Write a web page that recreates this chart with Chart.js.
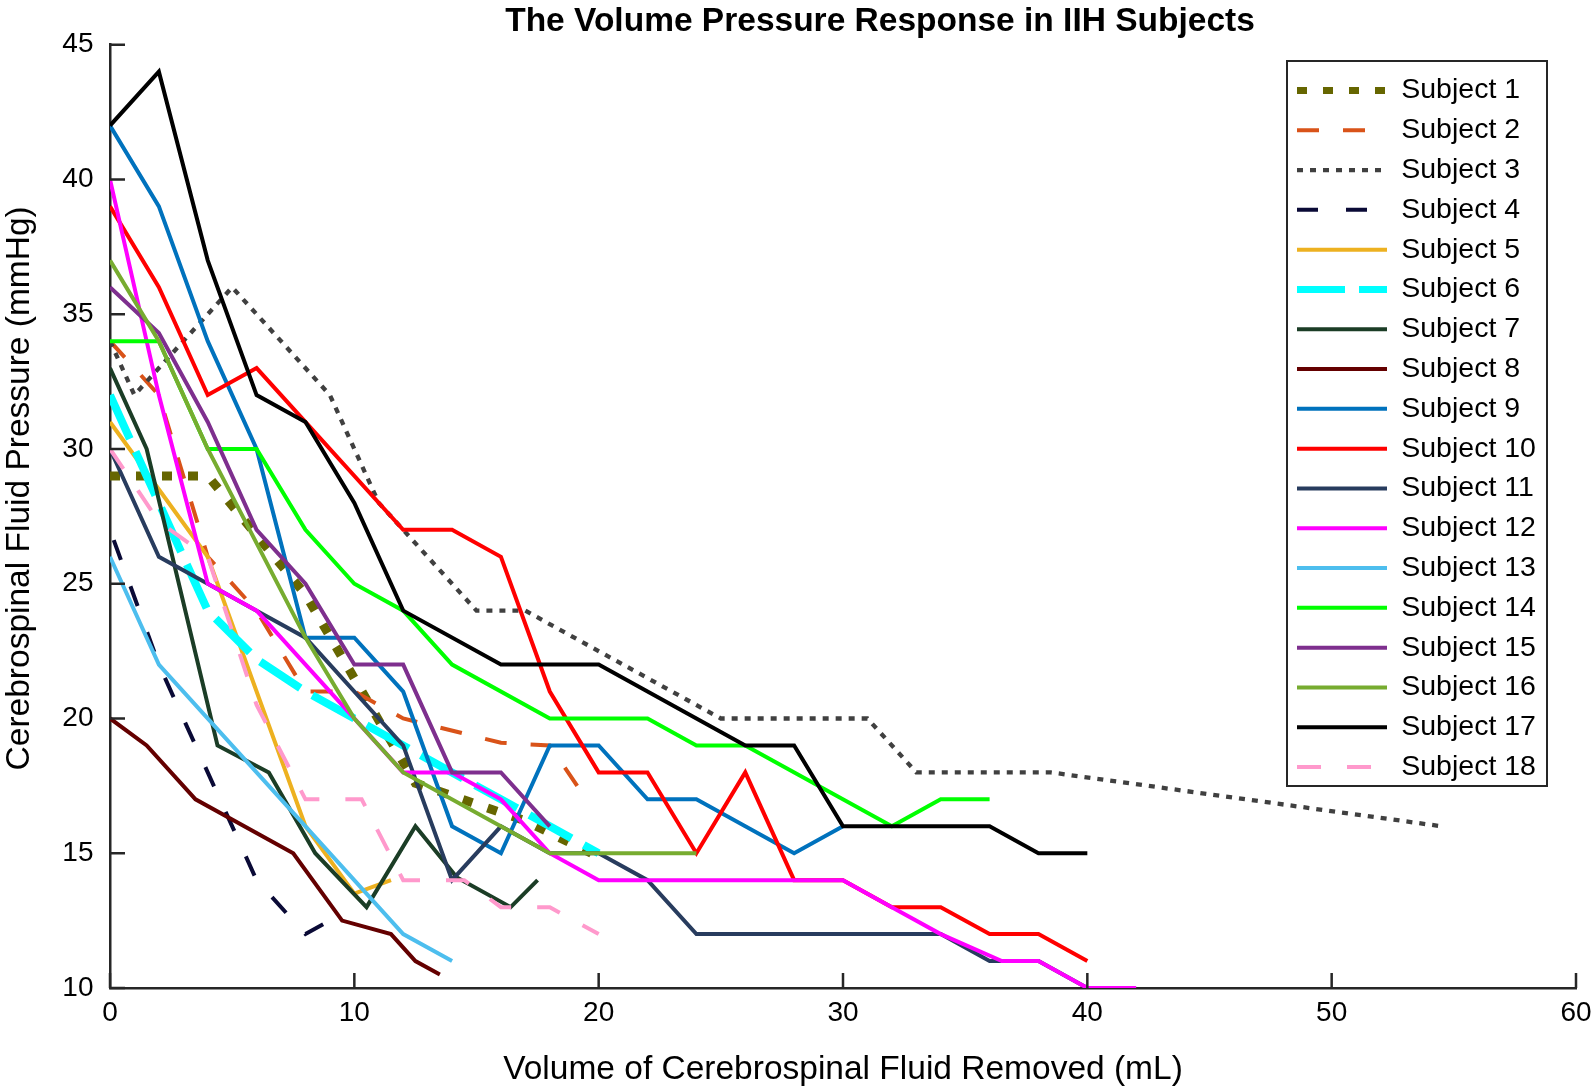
<!DOCTYPE html>
<html>
<head>
<meta charset="utf-8">
<title>The Volume Pressure Response in IIH Subjects</title>
<script src="https://cdn.jsdelivr.net/npm/chart.js@4.4.1/dist/chart.umd.min.js"></script>
<style>
  html, body { margin: 0; padding: 0; background: #fff; }
  #chart { display: block; }
</style>
</head>
<body>
<canvas id="chart" width="1594" height="1091"></canvas>
<script>
const CHART_TITLE = "The Volume Pressure Response in IIH Subjects";
const X_TITLE = "Volume of Cerebrospinal Fluid Removed (mL)";
const Y_TITLE = "Cerebrospinal Fluid Pressure (mmHg)";

const X_TICKS = [0, 10, 20, 30, 40, 50, 60];
const Y_TICKS = [10, 15, 20, 25, 30, 35, 40, 45];

const SUBJECTS = [
  "Subject 1", "Subject 2", "Subject 3", "Subject 4", "Subject 5", "Subject 6",
  "Subject 7", "Subject 8", "Subject 9", "Subject 10", "Subject 11", "Subject 12",
  "Subject 13", "Subject 14", "Subject 15", "Subject 16", "Subject 17", "Subject 18",
];

// volume removed (mL) and pressure (mmHg), one pair of arrays per subject
const ml1 = [0, 4, 8, 12.5, 17, 19.7];
const mmHg1 = [29, 29, 24.6, 17.6, 16.2, 15];
const ml2 = [0, 2, 4, 6, 8, 10, 12, 16, 18, 19.5];
const mmHg2 = [34, 32, 26, 24, 21, 21, 20, 19.1, 19, 17];
const ml3 = [0, 1, 5, 9, 11, 15, 17, 25, 31, 33, 38.5, 54.5];
const mmHg3 = [34, 32, 36, 32, 28, 24, 24, 20, 20, 18, 18, 16];
const ml4 = [0, 2, 4, 6, 8, 9];
const mmHg4 = [27, 22, 18, 14, 12, 12.5];
const ml5 = [0, 4, 8, 10, 11.5];
const mmHg5 = [31, 26, 16, 13.5, 14];
const ml6 = [0, 2, 4, 6, 8, 10, 12, 14, 16, 18, 20];
const mmHg6 = [32, 28, 24, 22.2, 21, 20, 19, 18, 17, 16, 15];
const ml7 = [0, 1.5, 4.4, 6.5, 8.4, 10.5, 12.5, 14.2, 16.4, 17.5];
const mmHg7 = [33, 30, 19, 18, 15, 13, 16, 14.1, 13, 14];
const ml8 = [0, 1.5, 3.5, 7.5, 9.5, 11.5, 12.5, 13.5];
const mmHg8 = [20, 19, 17, 15, 12.5, 12, 11, 10.5];
const ml9 = [0, 2, 4, 6, 8, 10, 12, 14, 16, 18, 20, 22, 24, 28, 30];
const mmHg9 = [42, 39, 34, 30, 23, 23, 21, 16, 15, 19, 19, 17, 17, 15, 16];
const ml10 = [0, 2, 4, 6, 12, 14, 16, 18, 20, 22, 24, 26, 28, 30, 32, 34, 36, 38, 40];
const mmHg10 = [39, 36, 32, 33, 27, 27, 26, 21, 18, 18, 15, 18, 14, 14, 13, 13, 12, 12, 11];
const ml11 = [0, 2, 4, 6, 8, 12, 14, 16, 18, 20, 22, 24, 34, 36, 38, 40];
const mmHg11 = [30, 26, 25, 24, 23, 19, 14, 16, 15, 15, 14, 12, 12, 11, 11, 10];
const ml12 = [0, 2, 4, 6, 12, 14, 16, 18, 20, 30, 32, 34, 36.5, 38, 40, 42];
const mmHg12 = [40, 32, 25, 24, 18, 18, 17, 15, 14, 14, 13, 12, 11, 11, 10, 10];
const ml13 = [0, 2, 12, 14];
const mmHg13 = [26, 22, 12, 11];
const ml14 = [0, 2, 4, 6, 8, 10, 12, 14, 18, 22, 24, 26, 32, 34, 36];
const mmHg14 = [34, 34, 30, 30, 27, 25, 24, 22, 20, 20, 19, 19, 16, 17, 17];
const ml15 = [0, 2, 4, 6, 8, 10, 12, 14, 16, 18];
const mmHg15 = [36, 34.3, 31, 27, 25, 22, 22, 18, 18, 16];
const ml16 = [0, 2, 4, 8, 10, 12, 18, 24];
const mmHg16 = [37, 34, 30, 23, 20, 18, 15, 15];
const ml17 = [0, 2, 4, 6, 8, 10, 12, 16, 20, 26, 28, 30, 36, 38, 40];
const mmHg17 = [42, 44, 37, 32, 31, 28, 24, 22, 22, 19, 19, 16, 16, 15, 15];
const ml18 = [0, 2, 4, 6, 8, 10.3, 12, 14.5, 16, 18, 20];
const mmHg18 = [30, 27.3, 26, 20.5, 17, 17, 14, 14, 13, 13, 12];

const VOLUMES = [ml1, ml2, ml3, ml4, ml5, ml6, ml7, ml8, ml9, ml10, ml11, ml12, ml13, ml14, ml15, ml16, ml17, ml18];
const PRESSURES = [mmHg1, mmHg2, mmHg3, mmHg4, mmHg5, mmHg6, mmHg7, mmHg8, mmHg9, mmHg10, mmHg11, mmHg12, mmHg13, mmHg14, mmHg15, mmHg16, mmHg17, mmHg18];

const LINE_COLORS = [
  "#666600", "#d95319", "#404040", "#0a0a36", "#edb120", "#00ffff",
  "#1b3d26", "#640000", "#0072bd", "#ff0000", "#283c5e", "#ff00ff",
  "#4dbeee", "#00ff00", "#7e2f8e", "#77ac30", "#000000", "#ff99cc",
];
const LINE_WIDTHS = [9, 4, 4.3, 4, 4, 8, 4, 4, 4, 4, 4, 4, 4, 4, 4, 4, 4, 4];
const LINE_DASHES = [
  [10, 16], [22, 24], [6, 7], [21, 28], [], [48, 14],
  [], [], [], [], [], [],
  [], [], [], [], [], [24, 26],
];
const DASH_OFFSETS = [0, 0, 0, 38, 0, 0, 0, 0, 0, 0, 0, 0, 0, 0, 0, 0, 0, 0];

const FONT_FAMILY = "Arial, 'Liberation Sans', Helvetica, sans-serif";
const AXIS_COLOR = "#262626";
const LEGEND_FRAME = { x: 1287, y: 61, w: 260, h: 725 };
const Y_TITLE_SHIFT = -28;

Chart.defaults.font.family = FONT_FAMILY;
Chart.defaults.color = "#000";

const datasets = SUBJECTS.map((name, i) => ({
  label: name,
  data: VOLUMES[i].map((x, j) => ({ x, y: PRESSURES[i][j] })),
  borderColor: LINE_COLORS[i],
  backgroundColor: LINE_COLORS[i],
  borderWidth: LINE_WIDTHS[i],
  borderDash: LINE_DASHES[i],
  borderDashOffset: DASH_OFFSETS[i],
  borderCapStyle: "butt",
  borderJoinStyle: "miter",
  pointRadius: 0,
  pointHoverRadius: 0,
  tension: 0,
  fill: false,
  // later subjects sit on top, as in the original plot
  order: SUBJECTS.length - i,
}));

// tick marks drawn inward from the axis lines
const inwardTicks = {
  id: "inwardTicks",
  afterDatasetsDraw(chart) {
    const { ctx, chartArea, scales } = chart;
    const len = 15;
    ctx.save();
    ctx.strokeStyle = AXIS_COLOR;
    ctx.lineWidth = 2.5;
    ctx.beginPath();
    X_TICKS.forEach((v) => {
      const px = scales.x.getPixelForValue(v);
      ctx.moveTo(px, chartArea.bottom);
      ctx.lineTo(px, chartArea.bottom - len);
    });
    Y_TICKS.forEach((v) => {
      const py = scales.y.getPixelForValue(v);
      ctx.moveTo(chartArea.left, py);
      ctx.lineTo(chartArea.left + len, py);
    });
    ctx.stroke();
    ctx.restore();
  },
};

// legend goes in the upper right corner of the axes, with a frame;
// title and y label are nudged to where the original has them
const placement = {
  id: "placement",
  afterLayout(chart) {
    const lg = chart.legend;
    lg.left = LEGEND_FRAME.x - 1.3;
    lg.top = LEGEND_FRAME.y + 3.9;
    lg.right = lg.left + lg.width;
    lg.bottom = lg.top + lg.height;

    chart.titleBlock.left = 166;
    chart.titleBlock.right = chart.width;

    const yScale = chart.scales.y;
    if (!yScale._shiftedTitle) {
      const drawTitle = yScale.drawTitle.bind(yScale);
      yScale.drawTitle = function () {
        this.ctx.save();
        this.ctx.translate(0, Y_TITLE_SHIFT);
        drawTitle();
        this.ctx.restore();
      };
      yScale._shiftedTitle = true;
    }
  },
  afterDraw(chart) {
    const { ctx } = chart;
    ctx.save();
    ctx.strokeStyle = AXIS_COLOR;
    ctx.lineWidth = 2;
    ctx.strokeRect(LEGEND_FRAME.x, LEGEND_FRAME.y, LEGEND_FRAME.w, LEGEND_FRAME.h);
    ctx.restore();
  },
};

new Chart(document.getElementById("chart"), {
  type: "line",
  data: { datasets },
  plugins: [inwardTicks, placement],
  options: {
    responsive: false,
    animation: false,
    devicePixelRatio: 1,
    layout: { padding: { top: 0, right: 18, bottom: 0, left: 0 } },
    plugins: {
      title: {
        display: true,
        text: CHART_TITLE,
        color: "#000",
        font: { size: 33.5, weight: "bold" },
        padding: { top: 2, bottom: 2.5 },
      },
      legend: {
        position: "chartArea",
        align: "start",
        labels: {
          font: { size: 28.5 },
          color: "#000",
          padding: 11.3,
          boxWidth: 90,
          usePointStyle: true,
          pointStyle: "line",
          pointStyleWidth: 90,
          generateLabels: (chart) =>
            chart.data.datasets.map((ds, i) => ({
              text: ds.label,
              datasetIndex: i,
              hidden: false,
              fontColor: "#000",
              fillStyle: ds.borderColor,
              strokeStyle: ds.borderColor,
              lineWidth: Math.min(ds.borderWidth, 7),
              lineDash: ds.borderDash,
              lineCap: "butt",
              pointStyle: "line",
            })),
        },
      },
      tooltip: { enabled: false },
    },
    scales: {
      x: {
        type: "linear",
        min: 0,
        max: 60,
        afterBuildTicks: (scale) => {
          scale.ticks = X_TICKS.map((v) => ({ value: v }));
        },
        ticks: { font: { size: 28 }, color: "#000", padding: 8.5 },
        grid: { display: false, drawTicks: false },
        border: { display: true, color: AXIS_COLOR, width: 2.5 },
        title: {
          display: true,
          text: X_TITLE,
          color: "#000",
          font: { size: 33.5 },
          padding: { top: 0, bottom: 1 },
        },
        afterFit: (scale) => {
          scale.height = 103;
          scale.paddingLeft = 0;
          scale.paddingRight = 0;
        },
      },
      y: {
        type: "linear",
        min: 10,
        max: 45,
        afterBuildTicks: (scale) => {
          scale.ticks = Y_TICKS.map((v) => ({ value: v }));
        },
        ticks: { font: { size: 28 }, color: "#000", padding: 16.5 },
        grid: { display: false, drawTicks: false },
        border: { display: true, color: AXIS_COLOR, width: 2.5 },
        title: {
          display: true,
          text: Y_TITLE,
          color: "#000",
          font: { size: 33.5 },
          padding: { top: 0, bottom: 0 },
        },
        afterFit: (scale) => {
          scale.width = 110;
          scale.paddingTop = 0;
          scale.paddingBottom = 0;
        },
      },
    },
  },
});
</script>
</body>
</html>
